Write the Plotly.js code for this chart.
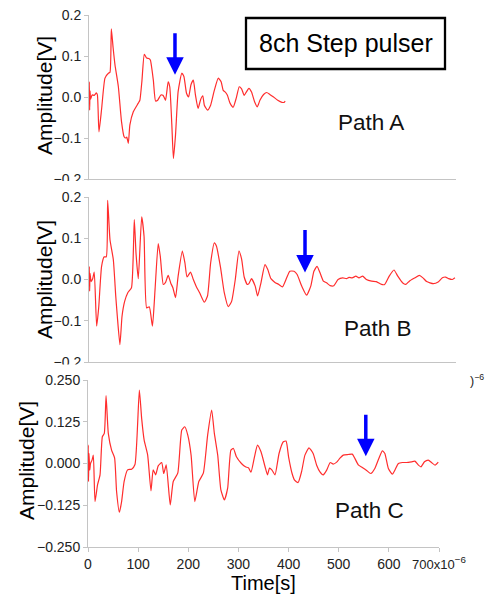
<!DOCTYPE html>
<html>
<head>
<meta charset="utf-8">
<script src="https://cdn.plot.ly/plotly-3.0.1.min.js"></script>
<style>html,body{margin:0;padding:0;background:#fff;}#chart{width:489px;height:594px;}</style>
</head>
<body>
<div id="chart"></div>
<script>
// Time in microseconds (axis shows x10^-6 s)
const tA = [0,0.6,1.2,2,3,6,10,14,16,19,24,30.5,37,40,42.6,46,49.6,56,62,67,70,72,75,78,84.5,94,97,101,105.5,110,114,117,122.7,127,131,137,141,143,146,151,154,158,161,165,170,177,181,186,190,194.5,199,203,208,213,217,220,226,232,239,246.6,252,256,260,264,269,275,281,286.6,291,296,300,305,310,316,321,326,333,339,345,352,360,368,372.6,374];
const vA = [0,0.037,-0.032,0.015,-0.005,0.005,0.004,0.01,0.005,-0.085,-0.03,0.046,0.058,0.06,0.166,0.12,0.078,0.025,-0.06,-0.097,-0.1,-0.098,-0.113,-0.068,-0.036,-0.015,-0.008,0.04,0.104,0.095,0.094,0.09,0.041,-0.01,-0.008,0.005,0.004,0,-0.008,0.037,0.025,-0.068,-0.15,-0.093,0.013,0.058,0.05,0.009,0,0.03,0.041,0.005,-0.028,-0.006,0.003,-0.02,-0.032,-0.02,0.016,0.046,0.037,0.016,0.012,0.004,-0.015,-0.025,-0.002,0.025,0.02,0.004,0.012,0.021,0.012,-0.012,-0.024,-0.008,0.006,0.011,0.006,0,-0.008,-0.013,-0.013,-0.01];

const tB = [0,0.6,1.2,2,4,7,10,14.6,18.5,24,29,33,35.6,40,46.4,51,54,59,63,68,74,81,86.4,89.6,94,100.5,105,110,115,121,126,132,136,141.7,146,151,156,160,165,170,178,183,187,193.6,199,205,211,220,226,232,239,243,251,258,265.7,272,279,286,291,296,302,305,310,317,321.6,328,335.6,341,347,354.7,362,369,377,383,391,397,405.7,415,423,429,435,441,447,453,460,467,475,484,491,496,502,509,515,522,529,539,548,558,564,572.6,581.7,589,598,604,611,621.7,630,637,644,656.8,666,674,680,686,693,698];
const vB = [0,0.031,-0.028,0.015,-0.005,0.002,0.018,-0.113,-0.068,0.032,0.055,0.055,0.192,0.097,0.048,-0.04,-0.089,-0.158,-0.089,-0.053,-0.032,-0.02,0.145,0.065,0.002,0.152,0.105,-0.069,-0.066,-0.113,-0.024,0.087,0.056,-0.012,-0.007,0.01,-0.009,-0.02,-0.044,0.008,0.069,0.04,0.006,0.018,0,-0.018,-0.032,-0.055,-0.04,0.04,0.089,0.081,0.028,-0.032,-0.066,-0.053,0,0.069,0.05,0.006,-0.012,-0.01,0.002,-0.016,-0.04,-0.008,0.036,0.024,0.002,-0.007,-0.012,-0.018,0.004,0.02,0.02,0.012,-0.016,-0.038,-0.016,0.02,0.032,0.015,-0.004,-0.008,-0.015,-0.015,0,0.004,0.002,0.005,0.004,0.008,0.004,0.008,0,-0.004,-0.005,-0.012,-0.012,0.008,0.023,0.008,-0.008,-0.012,-0.004,0.004,0.01,0.004,-0.005,-0.01,-0.006,0.004,0.006,0.002,0,0.004];

const tC = [0,0.5,1,2,3.5,5,8,10.6,14,19,24,28.6,32.5,36,40.5,47,53,57,62.6,67,72,79,87,93.7,102.4,107,112,119,125.6,130,135,140,147,151,156,164,170,179,187,193,199,205.6,213,221,230,238.6,246.6,252,258.7,265,272,278.5,285,290,296,306,314,320,325,332,338,345,353,358,362,367,373,381,389.5,395,400,407,412,419,426,432.6,440.7,449,456,462.6,469,476,483,489,496,502.5,509,519,527,532,539,547,555,564,572,580,587,592,599,607,612,619,627,635,645,652,659,664,671,678.6,685,692,698.5];
const vC = [0,0.055,-0.054,0.03,-0.02,0.0,0.01,0.025,-0.114,-0.064,-0.034,0.08,0.09,0.203,0.09,0.04,0.017,-0.084,-0.146,-0.114,-0.054,-0.019,-0.017,-0.003,0.22,0.135,0.07,0.025,-0.082,-0.019,-0.034,-0.007,0.003,-0.03,-0.004,-0.124,-0.054,-0.029,0.1,0.11,0.085,0.025,-0.114,-0.054,-0.029,0.085,0.16,0.09,0.025,-0.079,-0.109,-0.074,0.04,0.045,0.02,0,-0.01,-0.013,-0.026,0.02,0.055,0.035,-0.009,-0.034,-0.014,-0.02,-0.034,0.03,0.065,0.067,0.02,-0.03,-0.05,-0.057,-0.024,0.025,0.047,0.03,-0.005,-0.025,-0.034,-0.02,0.003,-0.002,0.004,0.016,0.025,0.027,0.028,0.016,-0.004,-0.012,-0.02,-0.03,-0.015,0.015,0.038,0.03,-0.015,-0.032,-0.02,0,0.003,0.003,0.005,0.007,-0.005,-0.01,0.005,0.01,0.003,-0.005,0.004];

// Arrow tips (time, amplitude) of the marked arrivals
const arrowT = [164, 412, 554];
const arrowV = [0.054, 0.017, 0.022];

const ab_ticks = [-0.2,-0.1,0,0.1,0.2];
const ab_text = ['\u22120.2','\u22120.1','0.0','0.1','0.2'];
const c_ticks = [-0.25,-0.125,0,0.125,0.25];
const c_text = ['\u22120.250','\u22120.125','0.000','0.125','0.250'];
const x_ticks = [0,100,200,300,400,500,600,700];
const x_text = ['0','100','200','300','400','500','600','<span style="font-size:13px">700x10</span><sup>\u22126</sup>'];

const W = 489, H = 594;
const PX = p => p / W;
const PY = p => 1 - p / H;

const lineStyle = {color: 'rgb(255,45,45)', width: 1.2, shape: 'spline', smoothing: 0.5};
const FONT = 'Liberation Sans, Arial, sans-serif';

const traces = [
  {x: tA, y: vA, xaxis: 'x', yaxis: 'y', mode: 'lines', line: lineStyle, hoverinfo: 'skip'},
  {x: tB, y: vB, xaxis: 'x2', yaxis: 'y2', mode: 'lines', line: lineStyle, hoverinfo: 'skip'},
  {x: tC, y: vC, xaxis: 'x3', yaxis: 'y3', mode: 'lines', line: lineStyle, hoverinfo: 'skip'}
];

const axCommon = {showgrid: false, zeroline: false, showline: true, linecolor: '#c4c4c4', linewidth: 1,
  ticks: 'outside', ticklen: 4, tickcolor: '#c4c4c4', tickfont: {family: FONT, size: 14, color: '#222'}, fixedrange: true};

const layout = {
  width: W, height: H, autosize: false,
  margin: {l: 0, r: 0, t: 0, b: 0},
  paper_bgcolor: '#fff', plot_bgcolor: 'rgba(0,0,0,0)',
  showlegend: false,
  xaxis: Object.assign({}, axCommon, {domain: [PX(89), PX(456)], range: [0, 700], anchor: 'y', ticks: '', showticklabels: false}),
  yaxis: Object.assign({}, axCommon, {domain: [PY(179), PY(15)], range: [-0.2, 0.2], anchor: 'x', tickvals: ab_ticks, ticktext: ab_text}),
  xaxis2: Object.assign({}, axCommon, {domain: [PX(89), PX(456)], range: [0, 700], anchor: 'y2', ticks: '', showticklabels: false}),
  yaxis2: Object.assign({}, axCommon, {domain: [PY(362), PY(197)], range: [-0.2, 0.2], anchor: 'x2', tickvals: ab_ticks, ticktext: ab_text}),
  xaxis3: Object.assign({}, axCommon, {domain: [PX(88), PX(439)], range: [0, 700], anchor: 'y3', tickvals: x_ticks, ticktext: x_text}),
  yaxis3: Object.assign({}, axCommon, {domain: [PY(547), PY(380)], range: [-0.25, 0.25], anchor: 'x3', tickvals: c_ticks, ticktext: c_text}),
  shapes: [
    {type: 'rect', xref: 'paper', yref: 'paper', x0: PX(246), x1: PX(445), y0: PY(69), y1: PY(18), line: {color: '#000', width: 2.3}, fillcolor: 'rgba(0,0,0,0)', layer: 'above'},
    // panel overlaps hide the lower part of the bottom tick label
    {type: 'rect', xref: 'paper', yref: 'paper', x0: 0, x1: PX(87), y0: PY(190), y1: PY(181), line: {width: 0}, fillcolor: '#fff', layer: 'above'},
    {type: 'rect', xref: 'paper', yref: 'paper', x0: 0, x1: PX(87), y0: PY(373), y1: PY(364.5), line: {width: 0}, fillcolor: '#fff', layer: 'above'}
  ],
  annotations: [
    {xref: 'paper', yref: 'paper', x: PX(345.5), y: PY(43.5), text: '8ch Step pulser', showarrow: false, font: {family: FONT, size: 25, color: '#000'}, xanchor: 'center', yanchor: 'middle'},
    {xref: 'paper', yref: 'paper', x: PX(371), y: PY(122), text: 'Path A', showarrow: false, font: {family: FONT, size: 22.5, color: '#111'}, xanchor: 'center', yanchor: 'middle'},
    {xref: 'paper', yref: 'paper', x: PX(378), y: PY(328), text: 'Path B', showarrow: false, font: {family: FONT, size: 22.5, color: '#111'}, xanchor: 'center', yanchor: 'middle'},
    {xref: 'paper', yref: 'paper', x: PX(369), y: PY(510), text: 'Path C', showarrow: false, font: {family: FONT, size: 22.5, color: '#111'}, xanchor: 'center', yanchor: 'middle'},
    {xref: 'paper', yref: 'paper', x: PX(44), y: PY(96), text: 'Amplitude[V]', textangle: -90, showarrow: false, font: {family: FONT, size: 21, color: '#000'}, xanchor: 'center', yanchor: 'middle'},
    {xref: 'paper', yref: 'paper', x: PX(44), y: PY(280), text: 'Amplitude[V]', textangle: -90, showarrow: false, font: {family: FONT, size: 21, color: '#000'}, xanchor: 'center', yanchor: 'middle'},
    {xref: 'paper', yref: 'paper', x: PX(26), y: PY(461), text: 'Amplitude[V]', textangle: -90, showarrow: false, font: {family: FONT, size: 21, color: '#000'}, xanchor: 'center', yanchor: 'middle'},
    {xref: 'paper', yref: 'paper', x: PX(263), y: PY(583), text: 'Time[s]', showarrow: false, font: {family: FONT, size: 20, color: '#000'}, xanchor: 'center', yanchor: 'middle'},
    {xref: 'paper', yref: 'paper', x: PX(477), y: PY(380), text: ')<sup>\u22126</sup>', showarrow: false, font: {family: FONT, size: 12.5, color: '#222'}, xanchor: 'center', yanchor: 'middle'},
    {xref: 'x', yref: 'y', x: arrowT[0], y: arrowV[0], ax: 0, ay: -43, text: '', showarrow: true, arrowhead: 2, arrowsize: 1, arrowwidth: 3.5, arrowcolor: '#0000ff', standoff: 0},
    {xref: 'x2', yref: 'y2', x: arrowT[1], y: arrowV[1], ax: 0, ay: -44, text: '', showarrow: true, arrowhead: 2, arrowsize: 1, arrowwidth: 3.5, arrowcolor: '#0000ff', standoff: 0},
    {xref: 'x3', yref: 'y3', x: arrowT[2], y: arrowV[2], ax: 0, ay: -43, text: '', showarrow: true, arrowhead: 2, arrowsize: 1, arrowwidth: 3.5, arrowcolor: '#0000ff', standoff: 0}
  ]
};

Plotly.newPlot('chart', traces, layout, {staticPlot: true, displayModeBar: false});
</script>
</body>
</html>
